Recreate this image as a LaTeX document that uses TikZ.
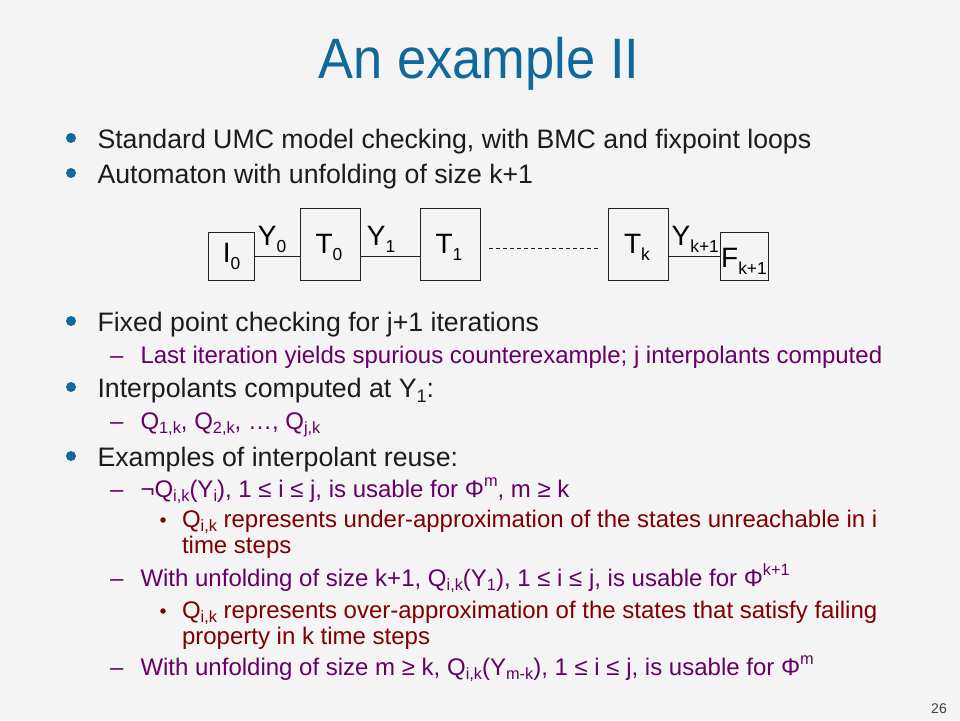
\documentclass[tikz,border=0pt]{standalone}
\usepackage{fontspec}
\setmainfont{Liberation Sans}
\newfontfamily\titlefont{Liberation Sans}[FakeStretch=0.92]
\definecolor{bg}{HTML}{F4F4F4}
\definecolor{ttl}{HTML}{10699C}
\definecolor{lvone}{HTML}{1C1C1C}
\definecolor{lvtwo}{HTML}{660066}
\definecolor{lvthree}{HTML}{800000}
\definecolor{boxc}{HTML}{222222}
\definecolor{pgnum}{HTML}{404040}
\newcommand\lo[1]{\raisebox{-0.2em}{\scalebox{0.68}{#1}}}
\newcommand\hi[1]{\raisebox{0.42em}{\scalebox{0.68}{#1}}}
\newcommand\dlo[1]{\raisebox{-0.25em}{\scalebox{0.62}{#1}}}
\begin{document}
\begin{tikzpicture}[x=1pt,y=-1pt,
  txt/.style={anchor=base west, inner sep=0pt, outer sep=0pt},
  lone/.style={txt, text=lvone, font=\fontsize{26.7}{32}\selectfont},
  ltwo/.style={txt, text=lvtwo, font=\fontsize{24}{29}\selectfont},
  lthree/.style={txt, text=lvthree, font=\fontsize{24}{29}\selectfont},
  dot/.style={circle, fill=ttl, minimum size=10pt, inner sep=0pt},
  sdot/.style={circle, fill=lvthree, minimum size=5.5pt, inner sep=0pt},
  dashmark/.style={txt, text=lvtwo, font=\fontsize{24}{29}\selectfont},
  blk/.style={draw=boxc, line width=1pt, inner sep=0pt},
  lab/.style={anchor=base, inner sep=0pt, text=black, font=\fontsize{28}{32}\selectfont},
  conn/.style={draw=boxc, line width=1pt},
]
\fill[bg] (0,0) rectangle (960,720);
\useasboundingbox (0,0) rectangle (960,720);

% title
\node[anchor=base, inner sep=0pt, text=ttl, font=\titlefont\fontsize{57}{60}\selectfont] (title) at (479,78) {An example II};

% level 1 bullets
\node[dot] (b1) at (71,138) {};
\node[lone] (t1) at (97.5,148) {Standard UMC model checking, with BMC and fixpoint loops};
\node[dot] (b2) at (71,173) {};
\node[lone] (t2) at (97.5,183) {Automaton with unfolding of size k+1};

% diagram
\node[blk, minimum width=46pt, minimum height=48pt] (I0) at (231,256) {};
\node[blk, minimum width=60pt, minimum height=72pt] (T0) at (330,244) {};
\node[blk, minimum width=60pt, minimum height=72pt] (T1) at (450,244) {};
\node[blk, minimum width=60pt, minimum height=72pt] (Tk) at (638,244) {};
\node[blk, minimum width=48pt, minimum height=48pt] (F) at (744,256) {};
\node[lab] (lI0) at (231.5,262) {I\dlo{0}};
\node[lab] (lT0) at (329,253) {T\dlo{0}};
\node[lab] (lT1) at (449,253) {T\dlo{1}};
\node[lab] (lTk) at (637,253) {T\dlo{k}};
\node[lab, anchor=base west] (lF) at (721,267) {F\dlo{k+1}};
\node[lab] (lY0) at (272,245) {Y\dlo{0}};
\node[lab] (lY1) at (381,245) {Y\dlo{1}};
\node[lab, anchor=base west] (lYk) at (671.5,245) {Y\dlo{k+1}};
\draw[conn] (I0.east) -- (I0.east -| T0.west);
\draw[conn] (T0.east |- I0.east) -- (T1.west |- I0.east);
\draw[conn] (Tk.east |- F.west) -- (F.west);
\coordinate (da) at (489,248);
\coordinate (db) at (599,248);
\draw[draw=boxc, line width=0.9pt, dash pattern=on 4pt off 3pt] (da) -- (db);

% fixed point
\node[dot] (b3) at (71,321) {};
\node[lone] (t3) at (97.5,331) {Fixed point checking for j+1 iterations};
\node[dashmark] (m1) at (110,363) {–};
\node[ltwo] (t3a) at (140.5,363) {Last iteration yields spurious counterexample; j interpolants computed};

% interpolants
\node[dot] (b4) at (71,387) {};
\node[lone] (t4) at (97.5,397) {Interpolants computed at Y\lo{1}:};
\node[dashmark] (m2) at (110,429) {–};
\node[ltwo] (t4a) at (140.5,429) {Q\lo{1,k}, Q\lo{2,k}, …, Q\lo{j,k}};

% examples
\node[dot] (b5) at (71,456) {};
\node[lone] (t5) at (97.5,466) {Examples of interpolant reuse:};
\node[dashmark] (m3) at (110,497) {–};
\node[ltwo] (t5a) at (140.5,497) {¬Q\lo{i,k}(Y\lo{i}), 1 ≤ i ≤ j, is usable for Φ\hi{m}, m ≥ k};
\node[sdot] (s1) at (163,520) {};
\node[lthree] (t5a1) at (182,527) {Q\lo{i,k} represents under-approximation of the states unreachable in i};
\node[lthree] (t5a2) at (182,553) {time steps};
\node[dashmark] (m4) at (110,586) {–};
\node[ltwo] (t5b) at (140.5,586) {With unfolding of size k+1, Q\lo{i,k}(Y\lo{1}), 1 ≤ i ≤ j, is usable for Φ\hi{k+1}};
\node[sdot] (s2) at (163,611) {};
\node[lthree] (t5b1) at (182,618) {Q\lo{i,k} represents over-approximation of the states that satisfy failing};
\node[lthree] (t5b2) at (182,644) {property in k time steps};
\node[dashmark] (m5) at (110,675) {–};
\node[ltwo] (t5c) at (140.5,675) {With unfolding of size m ≥ k, Q\lo{i,k}(Y\lo{m-k}), 1 ≤ i ≤ j, is usable for Φ\hi{m}};

% page number
\node[anchor=base east, inner sep=0pt, text=pgnum, font=\fontsize{14}{16}\selectfont] (pg) at (947,713) {26};
\end{tikzpicture}
\end{document}
